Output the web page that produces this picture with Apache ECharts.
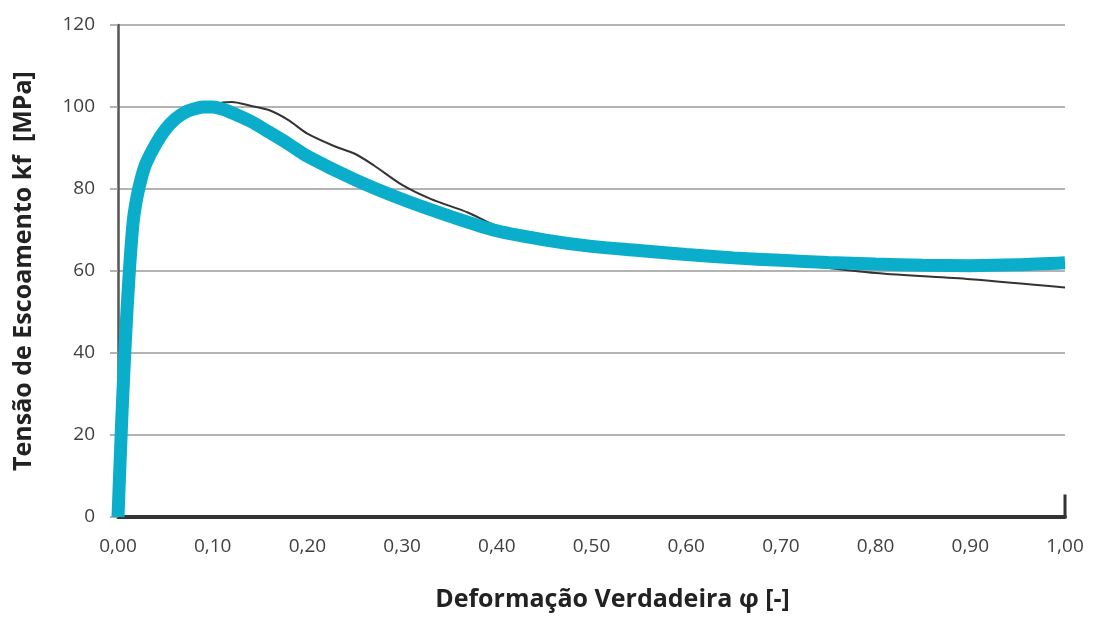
<!DOCTYPE html>
<html>
<head>
<meta charset="utf-8">
<script src="https://cdn.jsdelivr.net/npm/echarts@6/dist/echarts.min.js"></script>
<style>
  html, body { margin: 0; padding: 0; background: #fff; }
  #main { width: 1097px; height: 617px; }
</style>
</head>
<body>
<div id="main"></div>
<script>
// strain values and flow stress
var cyanX = [0, 0.004, 0.008, 0.012, 0.016, 0.02, 0.025, 0.03, 0.04, 0.05, 0.06, 0.07, 0.08, 0.09, 0.10, 0.11, 0.12, 0.14, 0.16, 0.18, 0.20, 0.25, 0.30, 0.35, 0.40, 0.45, 0.50, 0.55, 0.60, 0.65, 0.70, 0.75, 0.80, 0.85, 0.90, 0.95, 1.00];
var cyanY = [0, 24, 44, 60, 72, 78, 83, 86.5, 91, 94.5, 97, 98.6, 99.5, 100, 100, 99.5, 98.6, 96.5, 93.8, 91, 88, 82.3, 77.5, 73.4, 69.8, 67.6, 66, 65, 64, 63.2, 62.6, 62.1, 61.7, 61.4, 61.3, 61.5, 62];

// grey reference curve, mostly hidden under the cyan one at the start
var blackX = [0.07, 0.10, 0.12, 0.14, 0.16, 0.18, 0.20, 0.23, 0.25, 0.27, 0.30, 0.33, 0.37, 0.40, 0.45, 0.50, 0.60, 0.70, 0.80, 0.90, 1.00];
var blackY = [98.6, 100.6, 101.2, 100.3, 99.2, 96.8, 93.5, 90.3, 88.6, 85.8, 81, 77.6, 74.2, 71, 68.2, 66.5, 64.2, 62, 59.5, 58, 56];

var edgeX = [1.00, 1.00];
var edgeY = [0, 5.5];

var yTicks = [0, 20, 40, 60, 80, 100, 120];

function pairs(xs, ys) {
  return xs.map(function (x, i) { return [x, ys[i]]; });
}

var myChart = echarts.init(document.getElementById('main'));

var option = {
  animation: false,
  backgroundColor: '#ffffff',
  grid: { left: 118, right: 32, top: 25, bottom: 98 },
  xAxis: {
    type: 'value',
    min: 0, max: 1, interval: 0.1,
    name: 'Deformação Verdadeira φ [-]',
    nameLocation: 'middle',
    nameGap: 70,
    nameTextStyle: { fontFamily: 'Open Sans', fontWeight: 'bold', fontSize: 25, color: '#222', padding: [0, 0, 0, 42] },
    axisLine: { show: true, onZero: false, lineStyle: { color: '#333', width: 4 } },
    axisTick: { show: false },
    splitLine: { show: false },
    axisLabel: {
      fontFamily: 'Open Sans', fontSize: 19, color: '#404040', margin: 20,
      formatter: function (v) { return v.toFixed(2).replace('.', ','); }
    }
  },
  yAxis: {
    type: 'value',
    min: yTicks[0], max: yTicks[yTicks.length - 1], interval: 20,
    name: 'Tensão de Escoamento kf  [MPa]',
    nameLocation: 'middle',
    nameGap: 82,
    nameTextStyle: { fontFamily: 'Open Sans', fontWeight: 'bold', fontSize: 25, color: '#222' },
    axisLine: { show: true, lineStyle: { color: '#555', width: 2.5 } },
    axisTick: { show: true, length: 8, lineStyle: { color: '#9a9a9a', width: 1.5 } },
    splitLine: { show: true, lineStyle: { color: '#9a9a9a', width: 1.5 } },
    axisLabel: { fontFamily: 'Open Sans', fontSize: 19, color: '#404040', margin: 23 }
  },
  series: [
    {
      type: 'line', name: 'ref', smooth: 0.3, symbol: 'none', z: 2,
      data: pairs(blackX, blackY),
      lineStyle: { color: '#333', width: 2 }
    },
    {
      type: 'line', name: 'sim', smooth: 0.3, symbol: 'none', z: 3,
      data: pairs(cyanX, cyanY),
      lineStyle: { color: '#0aaecb', width: 13 }
    },
    {
      type: 'line', name: 'edge', symbol: 'none', z: 4,
      data: pairs(edgeX, edgeY),
      lineStyle: { color: '#333', width: 3 }
    }
  ]
};

option && myChart.setOption(option);
</script>
</body>
</html>
